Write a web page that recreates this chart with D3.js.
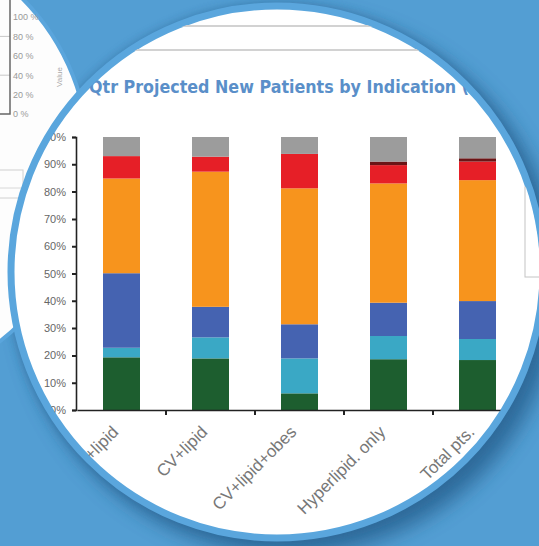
<!DOCTYPE html>
<html lang="en">
<head>
<meta charset="utf-8">
<title>Qtr Projected New Patients by Indication</title>
<script src="https://cdn.jsdelivr.net/npm/d3@7"></script>
<style>
  body { margin: 0; background: #539ed3; }
  svg { display: block; }
</style>
</head>
<body>
<div id="chart"></div>
<script>
// categories along the x axis
var categories = ["Diab+lipid", "CV+lipid", "CV+lipid+obes", "Hyperlipid. only", "Total pts."];

// stacked shares in %, bottom segment first
var seriesNames = ["green", "teal", "blue", "orange", "red", "darkRed", "grey"];
var green   = [19.3, 18.9,  6.1, 18.6, 18.3];
var teal    = [ 3.5,  7.7, 12.8,  8.5,  7.7];
var blue    = [27.3, 11.2, 12.5, 12.2, 13.9];
var orange  = [34.7, 49.5, 49.8, 43.7, 44.3];
var red     = [ 8.2,  5.5, 12.6,  6.7,  6.8];
var darkRed = [ 0.0,  0.0,  0.0,  1.3,  1.2];
var grey    = [ 7.0,  7.2,  6.2,  9.0,  7.8];

var seriesColors = ["#1d5e2f", "#3aa8c5", "#4563b1", "#f7941d", "#e61f27", "#6b1416", "#9c9c9c"];

// tick labels of the small chart seen in the left lens
var miniTicks = [0, 20, 40, 60, 80, 100];

var W = 539, H = 546;
var lens = {cx: 277, cy: 272, r: 263};
var side = {cx: -140, cy: 160, r: 229};

var svg = d3.select("#chart").append("svg")
  .attr("width", W)
  .attr("height", H);

var defs = svg.append("defs");
defs.append("filter").attr("id", "blur1")
  .attr("x", "-30%").attr("y", "-30%").attr("width", "160%").attr("height", "160%")
  .append("feGaussianBlur").attr("stdDeviation", 5);
defs.append("filter").attr("id", "blur2")
  .attr("x", "-30%").attr("y", "-30%").attr("width", "160%").attr("height", "160%")
  .append("feGaussianBlur").attr("stdDeviation", 10);
defs.append("clipPath").attr("id", "bigClip")
  .append("circle").attr("cx", lens.cx).attr("cy", lens.cy).attr("r", lens.r);
defs.append("clipPath").attr("id", "sideClip")
  .append("circle").attr("cx", side.cx).attr("cy", side.cy).attr("r", side.r);

svg.append("rect").attr("width", W).attr("height", H).attr("fill", "#539ed3");

// shadows of the big lens
svg.append("circle")
  .attr("cx", lens.cx + 12).attr("cy", lens.cy + 12).attr("r", lens.r + 8)
  .attr("fill", "#245a88").attr("opacity", 0.75)
  .attr("filter", "url(#blur2)");
svg.append("circle")
  .attr("cx", lens.cx).attr("cy", lens.cy).attr("r", lens.r + 6)
  .attr("fill", "#2d6695").attr("opacity", 0.55)
  .attr("filter", "url(#blur1)");

// small lens on the left, with a fragment of another chart
svg.append("circle")
  .attr("cx", side.cx).attr("cy", side.cy).attr("r", side.r)
  .attr("fill", "#fdfdfd").attr("stroke", "#5aa5dc").attr("stroke-width", 4);

var sideG = svg.append("g").attr("clip-path", "url(#sideClip)");
var miniY = d3.scaleLinear().domain([0, 100]).range([114, 17]);
sideG.selectAll("line.grid")
  .data([40, 80])
  .enter().append("line")
  .attr("x1", 0).attr("x2", 10)
  .attr("y1", d => miniY(d)).attr("y2", d => miniY(d))
  .attr("stroke", "#c8c8c8");
sideG.append("path")
  .attr("d", "M10,0V" + miniY(0) + "H0")
  .attr("fill", "none").attr("stroke", "#666").attr("stroke-width", 1.5);
var miniAxis = sideG.append("g")
  .attr("transform", "translate(10,0)")
  .call(d3.axisRight(miniY).tickValues(miniTicks).tickSize(0).tickPadding(3)
    .tickFormat(d => d + " %"));
miniAxis.select(".domain").remove();
miniAxis.selectAll("text")
  .attr("font-family", "Liberation Sans, Arial, sans-serif")
  .attr("font-size", 9).attr("fill", "#999");
sideG.append("text")
  .attr("transform", "translate(62,77) rotate(-90)")
  .attr("text-anchor", "middle")
  .attr("font-family", "Liberation Sans, Arial, sans-serif")
  .attr("font-size", 8).attr("fill", "#aaa")
  .text("Value");
sideG.append("rect")
  .attr("x", -5).attr("y", 170).attr("width", 28).attr("height", 28)
  .attr("fill", "none").attr("stroke", "#d0d0d0");
sideG.append("line")
  .attr("x1", -5).attr("x2", 23).attr("y1", 188).attr("y2", 188)
  .attr("stroke", "#d8d8d8");

// big lens
svg.append("circle")
  .attr("cx", lens.cx).attr("cy", lens.cy).attr("r", lens.r + 3)
  .attr("fill", "#fff").attr("stroke", "#5aa6dd").attr("stroke-width", 7);

var g = svg.append("g").attr("clip-path", "url(#bigClip)");

// worksheet rules at the top of the lens
g.selectAll("line.rule")
  .data([26, 50])
  .enter().append("line")
  .attr("x1", 0).attr("x2", W)
  .attr("y1", d => d).attr("y2", d => d)
  .attr("stroke", "#d2d2d2").attr("stroke-width", 2);

// legend box peeking in at the right edge
g.append("rect")
  .attr("x", 525).attr("y", 187).attr("width", 40).attr("height", 90)
  .attr("fill", "#fff").attr("stroke", "#c4c4c4");

g.append("text")
  .attr("x", 89).attr("y", 93)
  .attr("font-family", "DejaVu Sans, Verdana, sans-serif")
  .attr("font-weight", "bold")
  .attr("font-size", 17)
  .attr("fill", "#5a8fc9")
  .attr("textLength", 380)
  .attr("lengthAdjust", "spacingAndGlyphs")
  .text("Qtr Projected New Patients by Indication (");

// stacked bars
var rows = categories.map(function(c, i) {
  return {
    cat: c,
    green: green[i] / 100, teal: teal[i] / 100, blue: blue[i] / 100,
    orange: orange[i] / 100, red: red[i] / 100, darkRed: darkRed[i] / 100,
    grey: grey[i] / 100
  };
});
var stacked = d3.stack().keys(seriesNames)(rows);

var x = d3.scaleBand().domain(categories).range([77, 522]);
var y = d3.scaleLinear().domain([0, 1]).range([410, 137]);
var color = d3.scaleOrdinal().domain(seriesNames).range(seriesColors);
var barW = 37;

g.selectAll("g.layer")
  .data(stacked)
  .enter().append("g")
  .attr("class", "layer")
  .attr("fill", d => color(d.key))
  .selectAll("rect")
  .data(d => d)
  .enter().append("rect")
  .attr("x", d => x(d.data.cat) + x.bandwidth() / 2 - barW / 2)
  .attr("width", barW)
  .attr("y", d => y(d[1]))
  .attr("height", d => y(d[0]) - y(d[1]));

// y axis
var yAxis = g.append("g")
  .attr("transform", "translate(76,0)")
  .call(d3.axisLeft(y).ticks(10).tickSize(4).tickPadding(6).tickFormat(d3.format(".0%")));
yAxis.select(".domain").attr("stroke", "#222").attr("stroke-width", 1.6);
yAxis.selectAll(".tick line").attr("stroke", "#222").attr("stroke-width", 2);
yAxis.selectAll("text")
  .attr("font-family", "Liberation Sans, Arial, sans-serif")
  .attr("font-size", 11).attr("fill", "#666");

// x axis: line plus ticks between categories
var xAxis = g.append("g")
  .attr("transform", "translate(0,410)")
  .call(d3.axisBottom(x).tickSize(0).tickFormat(""));
xAxis.select(".domain").attr("stroke", "#222").attr("stroke-width", 1.6);
xAxis.selectAll("line.sep")
  .data(categories.slice(1))
  .enter().append("line")
  .attr("class", "sep")
  .attr("x1", d => x(d)).attr("x2", d => x(d))
  .attr("y1", 0).attr("y2", 5)
  .attr("stroke", "#222").attr("stroke-width", 2);

g.selectAll("text.xlab")
  .data(categories)
  .enter().append("text")
  .attr("class", "xlab")
  .attr("text-anchor", "end")
  .attr("transform", d => "translate(" + (x(d) + x.bandwidth() / 2 - 2) + ",433) rotate(-45)")
  .attr("font-family", "Liberation Sans, Arial, sans-serif")
  .attr("font-size", 17)
  .attr("fill", "#777")
  .text(d => d);
</script>
</body>
</html>
